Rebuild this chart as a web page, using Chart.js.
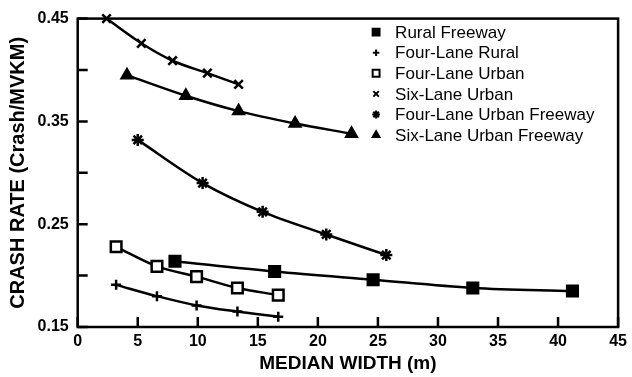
<!DOCTYPE html>
<html>
<head>
<meta charset="utf-8">
<script src="https://cdn.jsdelivr.net/npm/chart.js@4"></script>
<style>
  html, body { margin: 0; padding: 0; background: #fff; }
  #wrap { width: 632px; height: 377px; }
</style>
</head>
<body>
<div id="wrap"><canvas id="crashChart" width="632" height="377"></canvas></div>
<script>
// median width (m) and crash rate (crash/MVKM) for each road type
const seriesNames = ['Rural Freeway', 'Four-Lane Rural', 'Four-Lane Urban', 'Six-Lane Urban', 'Four-Lane Urban Freeway', 'Six-Lane Urban Freeway'];

const ruralFreewayX = [8.1, 16.4, 24.6, 32.9, 41.2];
const ruralFreewayY = [0.214, 0.204, 0.196, 0.188, 0.185];

const fourLaneRuralX = [3.2, 6.6, 9.9, 13.3, 16.7];
const fourLaneRuralY = [0.191, 0.180, 0.171, 0.165, 0.160];

const fourLaneUrbanX = [3.2, 6.6, 9.9, 13.3, 16.7];
const fourLaneUrbanY = [0.228, 0.209, 0.199, 0.188, 0.181];

const sixLaneUrbanX = [2.4, 5.3, 7.9, 10.8, 13.4];
const sixLaneUrbanY = [0.450, 0.426, 0.409, 0.397, 0.386];

const fourLaneUrbanFwyX = [5.0, 10.4, 15.4, 20.7, 25.7];
const fourLaneUrbanFwyY = [0.332, 0.290, 0.262, 0.240, 0.220];

const sixLaneUrbanFwyX = [4.1, 9.0, 13.4, 18.1, 22.8];
const sixLaneUrbanFwyY = [0.395, 0.375, 0.360, 0.348, 0.338];

const yLabelTicks = [0.15, 0.25, 0.35, 0.45];

const FONT = "'Liberation Sans', Arial, Helvetica, sans-serif";

function pts(xs, ys) {
    return xs.map(function(x, i) { return { x: x, y: ys[i] }; });
}

function series(label, xs, ys, style, radius, fill) {
    return {
        label: label,
        data: pts(xs, ys),
        borderColor: '#000',
        backgroundColor: fill,
        borderWidth: 2.5,
        pointStyle: style,
        pointRadius: radius,
        pointHoverRadius: radius,
        pointBorderWidth: 2.5,
        pointBorderColor: '#000',
        pointBackgroundColor: fill,
        cubicInterpolationMode: 'monotone',
        clip: false
    };
}

// box around the plot, inward ticks and the legend inside the plot
const framePlugin = {
    id: 'frame',
    afterDraw: function(chart) {
        const ctx = chart.ctx;
        const a = chart.chartArea;
        const xs = chart.scales.x;
        const ys = chart.scales.y;
        ctx.save();
        ctx.strokeStyle = '#000';
        ctx.lineWidth = 2.5;
        ctx.strokeRect(a.left, a.top, a.right - a.left, a.bottom - a.top);

        ctx.beginPath();
        xs.ticks.forEach(function(t, i) {
            const px = xs.getPixelForTick(i);
            ctx.moveTo(px, a.bottom);
            ctx.lineTo(px, a.bottom - 10);
        });
        ys.ticks.forEach(function(t, i) {
            const py = ys.getPixelForTick(i);
            ctx.moveTo(a.left, py);
            ctx.lineTo(a.left + 10, py);
        });
        ctx.stroke();

        // legend
        const lx = a.right - 242;
        const ly = a.top + 13.5;
        ctx.font = '17px ' + FONT;
        ctx.textBaseline = 'middle';
        ctx.textAlign = 'left';
        chart.data.datasets.forEach(function(ds, i) {
            const y = ly + i * 20.6;
            ctx.fillStyle = ds.pointBackgroundColor;
            ctx.strokeStyle = '#000';
            ctx.lineWidth = 2;
            Chart.helpers.drawPoint(ctx, {
                pointStyle: ds.pointStyle,
                radius: ds.pointRadius * 0.65,
                rotation: 0,
                borderWidth: 2
            }, lx, y);
            ctx.fillStyle = '#000';
            ctx.fillText(ds.label, lx + 19, y + 1);
        });
        ctx.restore();
    }
};

document.addEventListener("DOMContentLoaded", function() {
    const ctx = document.getElementById('crashChart');

    new Chart(ctx, {
        type: 'line',
        data: {
            datasets: [
                series(seriesNames[0], ruralFreewayX, ruralFreewayY, 'rect', 7.5, '#000'),
                series(seriesNames[1], fourLaneRuralX, fourLaneRuralY, 'cross', 5, '#000'),
                series(seriesNames[2], fourLaneUrbanX, fourLaneUrbanY, 'rect', 7.5, '#fff'),
                series(seriesNames[3], sixLaneUrbanX, sixLaneUrbanY, 'crossRot', 6, '#000'),
                series(seriesNames[4], fourLaneUrbanFwyX, fourLaneUrbanFwyY, 'star', 6, '#000'),
                series(seriesNames[5], sixLaneUrbanFwyX, sixLaneUrbanFwyY, 'triangle', 6, '#000')
            ]
        },
        options: {
            responsive: false,
            animation: false,
            events: [],
            layout: { padding: { left: 0, right: 11, top: 18, bottom: 0 } },
            plugins: {
                legend: { display: false },
                tooltip: { enabled: false }
            },
            scales: {
                x: {
                    type: 'linear',
                    min: 0,
                    max: 45,
                    afterFit: function(scale) { scale.height = 50; },
                    ticks: {
                        stepSize: 5,
                        color: '#000',
                        padding: 5,
                        font: { family: FONT, size: 16, weight: 'bold' }
                    },
                    grid: { display: true, drawOnChartArea: false, drawTicks: false },
                    border: { display: false },
                    title: {
                        display: true,
                        text: 'MEDIAN WIDTH (m)',
                        color: '#000',
                        padding: { top: 0, bottom: 2 },
                        font: { family: FONT, size: 19, weight: 'bold' }
                    }
                },
                y: {
                    type: 'linear',
                    min: 0.15,
                    max: 0.45,
                    afterFit: function(scale) { scale.width = 77.7; },
                    ticks: {
                        stepSize: 0.05,
                        color: '#000',
                        padding: 9,
                        font: { family: FONT, size: 16, weight: 'bold' },
                        callback: function(v) {
                            const hit = yLabelTicks.some(function(t) { return Math.abs(t - v) < 1e-6; });
                            return hit ? v.toFixed(2) : '';
                        }
                    },
                    grid: { display: true, drawOnChartArea: false, drawTicks: false },
                    border: { display: false },
                    title: {
                        display: true,
                        text: 'CRASH RATE (Crash/MVKM)',
                        color: '#000',
                        padding: { top: 6, bottom: 0 },
                        font: { family: FONT, size: 20, weight: 'bold' }
                    }
                }
            }
        },
        plugins: [framePlugin]
    });
});
</script>
</body>
</html>
